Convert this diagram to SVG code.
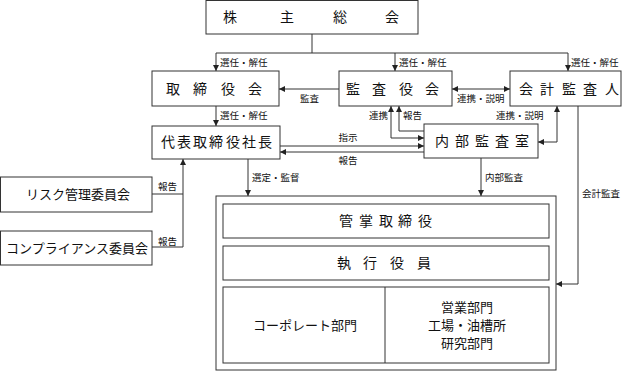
<svg xmlns="http://www.w3.org/2000/svg" width="624" height="371" viewBox="0 0 624 371">
<defs>
<marker id="ah" viewBox="0 0 6 6" refX="6" refY="3" markerWidth="6" markerHeight="6" markerUnits="userSpaceOnUse" orient="auto-start-reverse"><path d="M0,0L6,3L0,6z" fill="#222"/></marker>
<style>
.box{fill:#fff;stroke:#333;stroke-width:1}
.t{font-family:"Liberation Serif","Noto Sans CJK JP",serif;font-size:14px;fill:#111;text-anchor:middle;dominant-baseline:central}
.m{font-family:"Liberation Serif","Noto Sans CJK JP",serif;font-size:13px;fill:#111;text-anchor:middle;dominant-baseline:central}
.s{font-family:"Liberation Serif","Noto Sans CJK JP",serif;font-size:9.5px;fill:#111;dominant-baseline:central}
.sm{text-anchor:middle}
.c{fill:none;stroke:#333;stroke-width:1}
.a{marker-end:url(#ah)}
.b{marker-start:url(#ah);marker-end:url(#ah)}
</style>
</defs>
<rect width="624" height="371" fill="#fff"/>
<g id="connectors">
<path class="c" d="M312,34V53M216,53H568"/>
<path class="c a" d="M216,53V71"/>
<path class="c a" d="M395,53V71"/>
<path class="c a" d="M568,53V71"/>
<path class="c a" d="M339,89H279"/>
<path class="c b" d="M452,89H510"/>
<path class="c a" d="M216,106V126"/>
<path class="c b" d="M391,106V138H424"/>
<path class="c a" d="M424,131H399V106"/>
<path class="c a" d="M280,146H424"/>
<path class="c a" d="M424,152H280"/>
<path class="c b" d="M557,106V142H538"/>
<path class="c a" d="M578,106V284H556"/>
<path class="c a" d="M248,159V196"/>
<path class="c a" d="M481,158V196"/>
<path class="c" d="M152,194H183"/>
<path class="c a" d="M152,247H183V159"/>
<text class="s" x="220" y="63">選任・解任</text>
<text class="s" x="399" y="63">選任・解任</text>
<text class="s" x="571" y="63">選任・解任</text>
<text class="s" x="300" y="99">監査</text>
<text class="s" x="457" y="99">連携・説明</text>
<text class="s" x="220" y="116">選任・解任</text>
<text class="s sm" x="348" y="138">指示</text>
<text class="s sm" x="348" y="161">報告</text>
<text class="s" x="369" y="116">連携</text>
<text class="s" x="403" y="116">報告</text>
<text class="s" x="496" y="116">連携・説明</text>
<text class="s" x="252" y="178">選定・監督</text>
<text class="s" x="485" y="178">内部監査</text>
<text class="s" x="582" y="194">会計監査</text>
<text class="s" x="158" y="187">報告</text>
<text class="s" x="158" y="242">報告</text>
</g>
<g id="shareholders">
<rect class="box" x="206" y="0.5" width="212" height="33.5"/>
<text class="t" x="230 287 340 392" y="17">株主総会</text>
</g>
<g id="board">
<rect class="box" x="152" y="71" width="127" height="35"/>
<text class="t" x="173 200 228 255" y="89">取締役会</text>
</g>
<g id="audit-board">
<rect class="box" x="339" y="71" width="113" height="35"/>
<text class="t" x="353 379 406 432" y="89">監査役会</text>
</g>
<g id="accounting-auditor">
<rect class="box" x="510" y="71" width="111" height="35"/>
<text class="t" x="526 547 569 590 612" y="89">会計監査人</text>
</g>
<g id="president">
<rect class="box" x="152" y="126" width="128" height="33"/>
<text class="t" x="168 184 200 216 233 249 265" y="142">代表取締役社長</text>
</g>
<g id="internal-audit">
<rect class="box" x="424" y="124" width="114" height="34"/>
<text class="t" x="442 462 482 502 522" y="141">内部監査室</text>
</g>
<g id="risk-committee">
<rect class="box" x="0.5" y="177" width="151.5" height="35"/>
<text class="m" x="78" y="194">リスク管理委員会</text>
</g>
<g id="compliance-committee">
<rect class="box" x="0.5" y="231" width="151.5" height="34"/>
<text class="m" x="77" y="248">コンプライアンス委員会</text>
</g>
<g id="organization">
<rect class="box" x="216" y="196" width="340" height="174"/>
<rect class="box" x="223" y="204" width="326" height="34"/>
<text class="t" x="346 366 386 405 425" y="221">管掌取締役</text>
<rect class="box" x="223" y="246" width="326" height="34"/>
<text class="t" x="344 370 397 424" y="263">執行役員</text>
<rect class="box" x="223" y="287" width="326" height="76"/>
<path class="c" d="M385,287V363"/>
<text class="m" x="305" y="325">コーポレート部門</text>
<text class="m" x="467" y="307">営業部門</text>
<text class="m" x="467" y="325">工場・油槽所</text>
<text class="m" x="467" y="343">研究部門</text>
</g>
</svg>
